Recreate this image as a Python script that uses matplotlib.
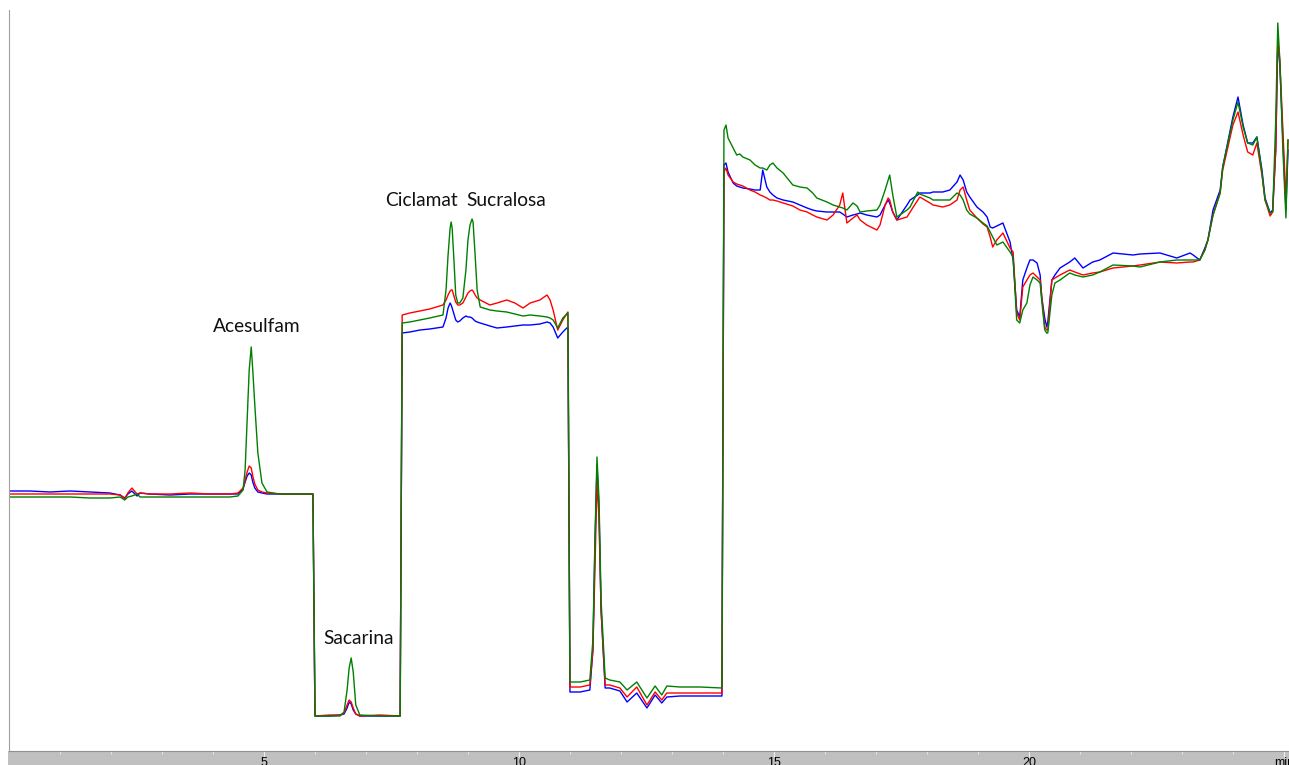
import matplotlib
matplotlib.use("Agg")
import matplotlib.pyplot as plt
from matplotlib.patches import Rectangle

# retention time (min) and detector signal (arbitrary units) for the three runs
time_min = [
    0.00, 0.41, 0.80, 1.20, 1.59, 1.98, 2.18, 2.27, 2.33, 2.41, 2.51, 2.57, 2.76, 3.16, 3.55,
    3.94, 4.33, 4.49, 4.59, 4.63, 4.67, 4.71, 4.75, 4.78, 4.82, 4.88, 4.96, 5.06, 5.31, 5.71,
    5.96, 6.00, 6.29, 6.49, 6.57, 6.63, 6.67, 6.71, 6.75, 6.80, 6.88, 7.27, 7.67, 7.71, 7.86,
    8.06, 8.25, 8.51, 8.57, 8.61, 8.65, 8.67, 8.69, 8.73, 8.76, 8.80, 8.84, 8.90, 8.96, 9.00,
    9.04, 9.08, 9.10, 9.14, 9.18, 9.24, 9.43, 9.57, 9.76, 9.92, 10.08, 10.22, 10.41, 10.55, 10.61,
    10.67, 10.76, 10.86, 10.96, 11.00, 11.20, 11.39, 11.45, 11.49, 11.53, 11.57, 11.61, 11.69, 11.78, 11.98,
    12.12, 12.31, 12.51, 12.67, 12.80, 12.90, 13.16, 13.55, 13.98, 14.02, 14.06, 14.10, 14.20, 14.27, 14.33,
    14.39, 14.53, 14.63, 14.73, 14.78, 14.86, 14.92, 14.98, 15.06, 15.18, 15.37, 15.51, 15.65, 15.76, 15.84,
    16.04, 16.16, 16.29, 16.35, 16.43, 16.55, 16.63, 16.69, 16.82, 17.02, 17.08, 17.18, 17.24, 17.27, 17.33,
    17.41, 17.61, 17.67, 17.82, 17.86, 18.06, 18.12, 18.31, 18.45, 18.59, 18.65, 18.71, 18.78, 18.84, 18.98,
    19.10, 19.18, 19.24, 19.29, 19.37, 19.49, 19.63, 19.69, 19.76, 19.82, 19.88, 19.96, 20.02, 20.08, 20.16,
    20.22, 20.25, 20.31, 20.35, 20.37, 20.45, 20.51, 20.61, 20.80, 20.90, 21.06, 21.25, 21.39, 21.65, 22.04,
    22.18, 22.57, 22.90, 23.16, 23.22, 23.35, 23.45, 23.51, 23.61, 23.75, 23.80, 24.00, 24.10, 24.20, 24.29,
    24.39, 24.47, 24.57, 24.63, 24.73, 24.78, 24.84, 24.88, 24.92, 24.98, 25.04, 25.08,
]

green = [
    25.4, 25.4, 25.4, 25.4, 25.3, 25.3, 25.4, 25.1, 25.4, 25.5, 25.7, 25.4, 25.4, 25.4, 25.4,
    25.4, 25.4, 25.5, 26.1, 28.1, 33.1, 38.1, 40.4, 38.1, 34.6, 29.8, 26.8, 25.9, 25.7, 25.7,
    25.7, 3.5, 3.5, 3.5, 3.9, 6.1, 8.3, 9.3, 7.9, 4.6, 3.6, 3.5, 3.5, 42.8, 42.9,
    43.1, 43.3, 43.6, 46.1, 49.6, 52.3, 52.9, 52.3, 48.6, 45.6, 44.8, 44.8, 45.3, 48.1, 51.1,
    52.6, 53.2, 52.9, 49.6, 46.1, 44.4, 44.1, 44.0, 43.9, 43.7, 43.5, 43.6, 43.5, 43.4, 43.3,
    43.1, 42.3, 43.3, 43.8, 6.9, 6.9, 7.1, 11.1, 21.1, 29.4, 25.1, 15.1, 7.3, 7.1, 6.9,
    6.1, 6.9, 5.3, 6.5, 5.6, 6.5, 6.4, 6.4, 6.3, 62.1, 62.6, 61.3, 60.3, 59.6, 59.7,
    59.4, 59.1, 58.6, 58.3, 58.3, 58.1, 58.6, 58.8, 58.3, 57.8, 56.6, 56.4, 56.3, 55.8, 55.3,
    54.9, 54.6, 54.4, 54.3, 54.1, 54.8, 54.5, 53.9, 54.0, 54.1, 54.6, 56.1, 57.1, 57.6, 55.6,
    53.4, 54.1, 54.4, 55.9, 55.7, 55.3, 55.1, 55.1, 55.1, 55.8, 55.6, 55.1, 54.1, 53.7, 53.3,
    52.8, 52.5, 51.9, 51.4, 50.6, 50.9, 49.9, 49.4, 43.1, 42.8, 44.1, 44.8, 46.6, 47.4, 47.1,
    46.8, 45.1, 42.1, 41.8, 41.8, 45.6, 46.8, 47.1, 47.8, 47.6, 47.4, 47.6, 47.9, 48.6, 48.5,
    48.4, 48.9, 49.1, 49.1, 49.1, 49.1, 50.1, 51.1, 53.6, 55.8, 58.4, 63.1, 64.9, 62.4, 60.8,
    60.6, 61.4, 57.8, 55.1, 53.8, 53.9, 63.1, 72.8, 69.1, 60.1, 53.3, 61.1,
]

red = [
    25.7, 25.7, 25.7, 25.7, 25.7, 25.7, 25.6, 25.2, 25.8, 26.3, 25.7, 25.8, 25.7, 25.7, 25.8,
    25.7, 25.7, 25.8, 26.3, 27.1, 27.9, 28.5, 28.3, 27.5, 26.7, 26.1, 25.9, 25.8, 25.7, 25.7,
    25.7, 3.5, 3.6, 3.6, 3.8, 4.6, 5.1, 4.9, 4.3, 3.7, 3.5, 3.6, 3.5, 43.6, 43.8,
    44.0, 44.2, 44.6, 45.1, 45.6, 46.0, 46.1, 46.1, 45.4, 44.9, 44.6, 44.6, 44.8, 45.4, 45.8,
    46.0, 46.1, 46.0, 45.6, 45.3, 45.1, 44.6, 44.8, 45.1, 44.8, 44.3, 44.8, 45.1, 45.6, 45.1,
    44.1, 42.1, 43.1, 43.9, 6.4, 6.4, 6.6, 10.1, 18.1, 27.1, 23.1, 14.1, 6.6, 6.6, 6.3,
    5.4, 6.4, 4.6, 5.9, 5.1, 5.8, 5.8, 5.8, 5.8, 57.9, 58.3, 57.6, 56.9, 56.7, 56.6,
    56.5, 56.1, 55.9, 55.6, 55.5, 55.3, 55.1, 55.1, 55.0, 54.8, 54.5, 54.1, 53.9, 53.6, 53.4,
    53.1, 53.6, 54.6, 55.8, 52.8, 53.3, 53.6, 53.1, 52.6, 52.1, 52.6, 54.6, 55.3, 55.1, 53.9,
    53.1, 53.4, 53.9, 55.1, 55.4, 54.8, 54.6, 54.4, 54.6, 55.1, 56.1, 56.4, 55.1, 54.1, 53.3,
    52.7, 52.4, 51.4, 50.4, 51.1, 51.8, 50.3, 49.9, 43.8, 43.1, 46.4, 47.1, 47.6, 47.8, 47.4,
    47.1, 45.6, 42.4, 42.1, 42.1, 47.1, 47.3, 47.6, 48.1, 47.9, 47.6, 47.8, 47.9, 48.3, 48.5,
    48.6, 48.9, 48.8, 48.9, 48.9, 49.1, 50.1, 51.1, 53.6, 55.8, 58.1, 62.6, 63.9, 61.6, 59.9,
    59.6, 60.8, 57.6, 55.1, 53.5, 53.9, 60.1, 71.1, 69.1, 62.1, 55.1, 61.1,
]

blue = [
    26.0, 26.0, 25.9, 26.0, 25.9, 25.8, 25.6, 25.3, 25.7, 26.0, 25.5, 25.8, 25.7, 25.6, 25.7,
    25.7, 25.7, 25.7, 26.2, 26.9, 27.5, 27.8, 27.6, 26.9, 26.3, 25.9, 25.8, 25.7, 25.7, 25.7,
    25.7, 3.5, 3.5, 3.6, 3.7, 4.3, 4.9, 4.7, 4.1, 3.7, 3.5, 3.5, 3.5, 41.8, 41.9,
    42.1, 42.2, 42.4, 43.3, 44.3, 44.8, 44.6, 44.3, 43.6, 43.1, 42.9, 43.0, 43.3, 43.5, 43.4,
    43.4, 43.3, 43.2, 43.0, 42.9, 42.8, 42.5, 42.3, 42.4, 42.5, 42.6, 42.6, 42.7, 42.9, 42.8,
    42.4, 41.3, 41.9, 42.4, 5.9, 5.9, 6.1, 10.1, 20.6, 28.6, 24.1, 14.1, 6.3, 6.3, 6.0,
    4.9, 5.8, 4.3, 5.6, 4.8, 5.4, 5.5, 5.5, 5.5, 58.6, 58.8, 57.9, 56.8, 56.5, 56.4,
    56.3, 56.2, 56.1, 56.1, 58.1, 56.4, 55.9, 55.6, 55.3, 55.1, 54.9, 54.6, 54.3, 54.1, 54.0,
    53.9, 53.9, 53.9, 53.7, 53.4, 53.6, 53.7, 53.8, 53.6, 53.4, 53.6, 54.6, 55.1, 54.8, 53.9,
    53.1, 54.6, 55.1, 55.6, 55.8, 55.8, 55.9, 55.9, 56.1, 56.9, 57.6, 57.1, 55.9, 55.4, 54.4,
    53.9, 53.4, 52.4, 52.3, 52.5, 52.8, 50.9, 49.1, 44.1, 43.4, 47.1, 48.3, 49.1, 49.1, 48.8,
    47.6, 45.4, 43.3, 42.4, 42.9, 47.1, 47.6, 48.3, 48.9, 49.3, 48.3, 48.9, 49.1, 49.8, 49.6,
    49.7, 49.8, 49.3, 49.8, 49.6, 49.1, 50.3, 51.1, 54.1, 56.1, 58.4, 63.4, 65.4, 62.6, 60.8,
    60.8, 61.4, 58.1, 55.3, 53.8, 54.1, 60.1, 71.1, 68.6, 61.1, 54.1, 60.1,
]

# peak labels: (name, time, signal)
peak_names = ["Acesulfam", "Sacarina", "Ciclamat", "Sucralosa"]
peak_t = [4.86, 6.86, 8.08, 9.75]
peak_s = [42.4, 11.3, 55.0, 55.0]

fig = plt.figure(figsize=(12.89, 7.65), dpi=100)
fig.patch.set_facecolor("white")
# grey band under the time axis (drawn behind the axes so ticks stay visible)
fig.patches.append(Rectangle((8 / 1289, 0), 1, 14 / 765, transform=fig.transFigure,
                             facecolor="#c0c0c0", edgecolor="none", zorder=-1))

ax = fig.add_axes([9 / 1289, 14 / 765, 1 - 9 / 1289, 741 / 765])
ax.patch.set_alpha(0)
ax.plot(time_min, blue, color="#0000ff", lw=1.0)
ax.plot(time_min, red, color="#ff0000", lw=1.0)
ax.plot(time_min, green, color="#008000", lw=1.0)

for name, t, s in zip(peak_names, peak_t, peak_s):
    ax.text(t, s, name, ha="center", va="center", fontsize=13.8,
            family="Lato", color="#111111")

ax.set_xlim(0, 25.1)
ax.set_ylim(0, 74.1)
ax.set_xticks([5, 10, 15, 20, 25])
ax.set_xticklabels(["5", "10", "15", "20", "min"])
ax.set_xticks(range(1, 26), minor=True)
ax.set_yticks([])
ax.tick_params(axis="x", which="major", length=4, color="#f0f0f0", pad=0.3,
               labelsize=9, labelcolor="black")
ax.tick_params(axis="x", which="minor", length=2.2, color="#f0f0f0")
for side in ["top", "right"]:
    ax.spines[side].set_visible(False)
ax.spines["left"].set_color("#a0a0a0")
ax.spines["bottom"].set_color("#909090")
for lab in ax.get_xticklabels():
    lab.set_family("Liberation Sans")

fig.savefig("out.png", dpi=100)
